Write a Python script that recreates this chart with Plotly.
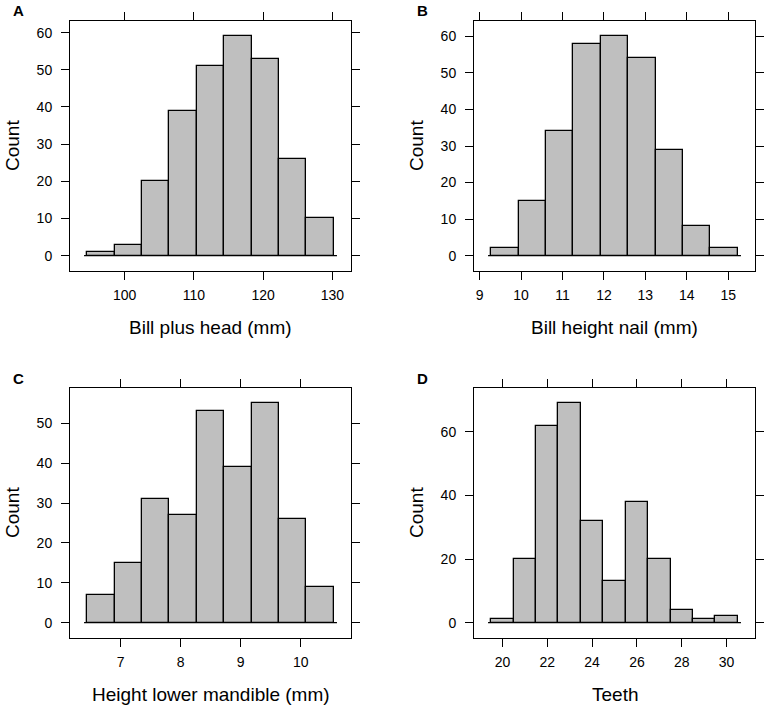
import numpy as np
import plotly.graph_objects as go

# Panel A: bill plus head (mm)
a_edges = np.linspace(94.61, 130.2, 10)
a_counts = [1, 3, 20, 39, 51, 59, 53, 26, 10]
a_xticks = [100, 110, 120, 130]
a_yticks = [0, 10, 20, 30, 40, 50, 60]

# Panel B: bill height nail (mm)
b_edges = np.linspace(9.28, 15.23, 10)
b_counts = [2, 15, 34, 58, 60, 54, 29, 8, 2]
b_xticks = [9, 10, 11, 12, 13, 14, 15]
b_yticks = [0, 10, 20, 30, 40, 50, 60]

# Panel C: height lower mandible (mm)
c_edges = np.linspace(6.445, 10.55, 10)
c_counts = [7, 15, 31, 27, 53, 39, 55, 26, 9]
c_xticks = [7, 8, 9, 10]
c_yticks = [0, 10, 20, 30, 40, 50]

# Panel D: teeth
d_edges = np.arange(19.5, 31.5, 1.0)
d_counts = [1, 20, 62, 69, 32, 13, 38, 20, 4, 1, 2]
d_xticks = [20, 22, 24, 26, 28, 30]
d_yticks = [0, 20, 40, 60]

panels = [
    ("A", "Bill plus head (mm)", a_edges, a_counts, a_xticks, a_yticks),
    ("B", "Bill height nail (mm)", b_edges, b_counts, b_xticks, b_yticks),
    ("C", "Height lower mandible (mm)", c_edges, c_counts, c_xticks, c_yticks),
    ("D", "Teeth", d_edges, d_counts, d_xticks, d_yticks),
]

W, H = 767, 707
# plot boxes in pixels (left, top, right, bottom)
boxes = [(70, 21, 351, 271), (474, 21, 755, 271),
         (70, 388, 351, 638), (474, 388, 755, 638)]

FONT = "Liberation Sans, Arial, sans-serif"
fig = go.Figure()
annotations = []


def px(x):
    return x / W


def py(y):
    return 1 - y / H


for i, (letter, xtitle, edges, counts, xt, yt) in enumerate(panels):
    n = "" if i == 0 else str(i + 1)
    edges = np.asarray(edges)
    centers = (edges[:-1] + edges[1:]) / 2
    widths = np.diff(edges)
    fig.add_trace(go.Bar(x=centers, y=counts, width=widths,
                         marker=dict(color="#bfbfbf", line=dict(color="black", width=1.3)),
                         xaxis="x" + n, yaxis="y" + n, showlegend=False))
    rng = edges[-1] - edges[0]
    pad = 0.013 * rng
    fig.add_trace(go.Scatter(x=[edges[0] - pad, edges[-1] + pad], y=[0, 0], mode="lines",
                             line=dict(color="black", width=1.3),
                             xaxis="x" + n, yaxis="y" + n, showlegend=False))
    l, t, r, b = boxes[i]
    ymax = max(counts)
    common = dict(showline=True, linecolor="black", linewidth=1, mirror="ticks",
                  ticks="outside", ticklen=8, tickcolor="black", tickwidth=1,
                  showgrid=False, zeroline=False,
                  tickfont=dict(family=FONT, size=14, color="black"))
    fig.update_layout(**{
        "xaxis" + n: dict(domain=[px(l), px(r)], anchor="y" + n,
                          range=[edges[0] - 0.07 * rng, edges[-1] + 0.07 * rng],
                          tickvals=xt, ticklabelstandoff=3, **common),
        "yaxis" + n: dict(domain=[py(b), py(t)], anchor="x" + n,
                          range=[-0.07 * ymax, 1.07 * ymax],
                          tickvals=yt, ticklabelstandoff=6, **common),
    })
    cx = (l + r) / 2
    cy = (t + b) / 2
    annotations.append(dict(text=xtitle, x=px(cx), y=py(b + 56), xref="paper", yref="paper",
                            showarrow=False, xanchor="center", yanchor="middle",
                            font=dict(family=FONT, size=19, color="black")))
    annotations.append(dict(text="Count", x=px(l - 58), y=py(cy), xref="paper", yref="paper",
                            showarrow=False, textangle=-90, xanchor="center", yanchor="middle",
                            font=dict(family=FONT, size=19, color="black")))
    annotations.append(dict(text="<b>" + letter + "</b>", x=px(l - 52), y=py(t - 10),
                            xref="paper", yref="paper", showarrow=False,
                            xanchor="center", yanchor="middle",
                            font=dict(family=FONT, size=15, color="black")))

fig.update_layout(width=W, height=H, margin=dict(l=0, r=0, t=0, b=0),
                  paper_bgcolor="white", plot_bgcolor="white",
                  bargap=0, annotations=annotations)

# drop the default 8px page margin so the figure fills the window
fig.write_html("out.html", config={"displayModeBar": False},
               post_script="document.body.style.margin='0';")
